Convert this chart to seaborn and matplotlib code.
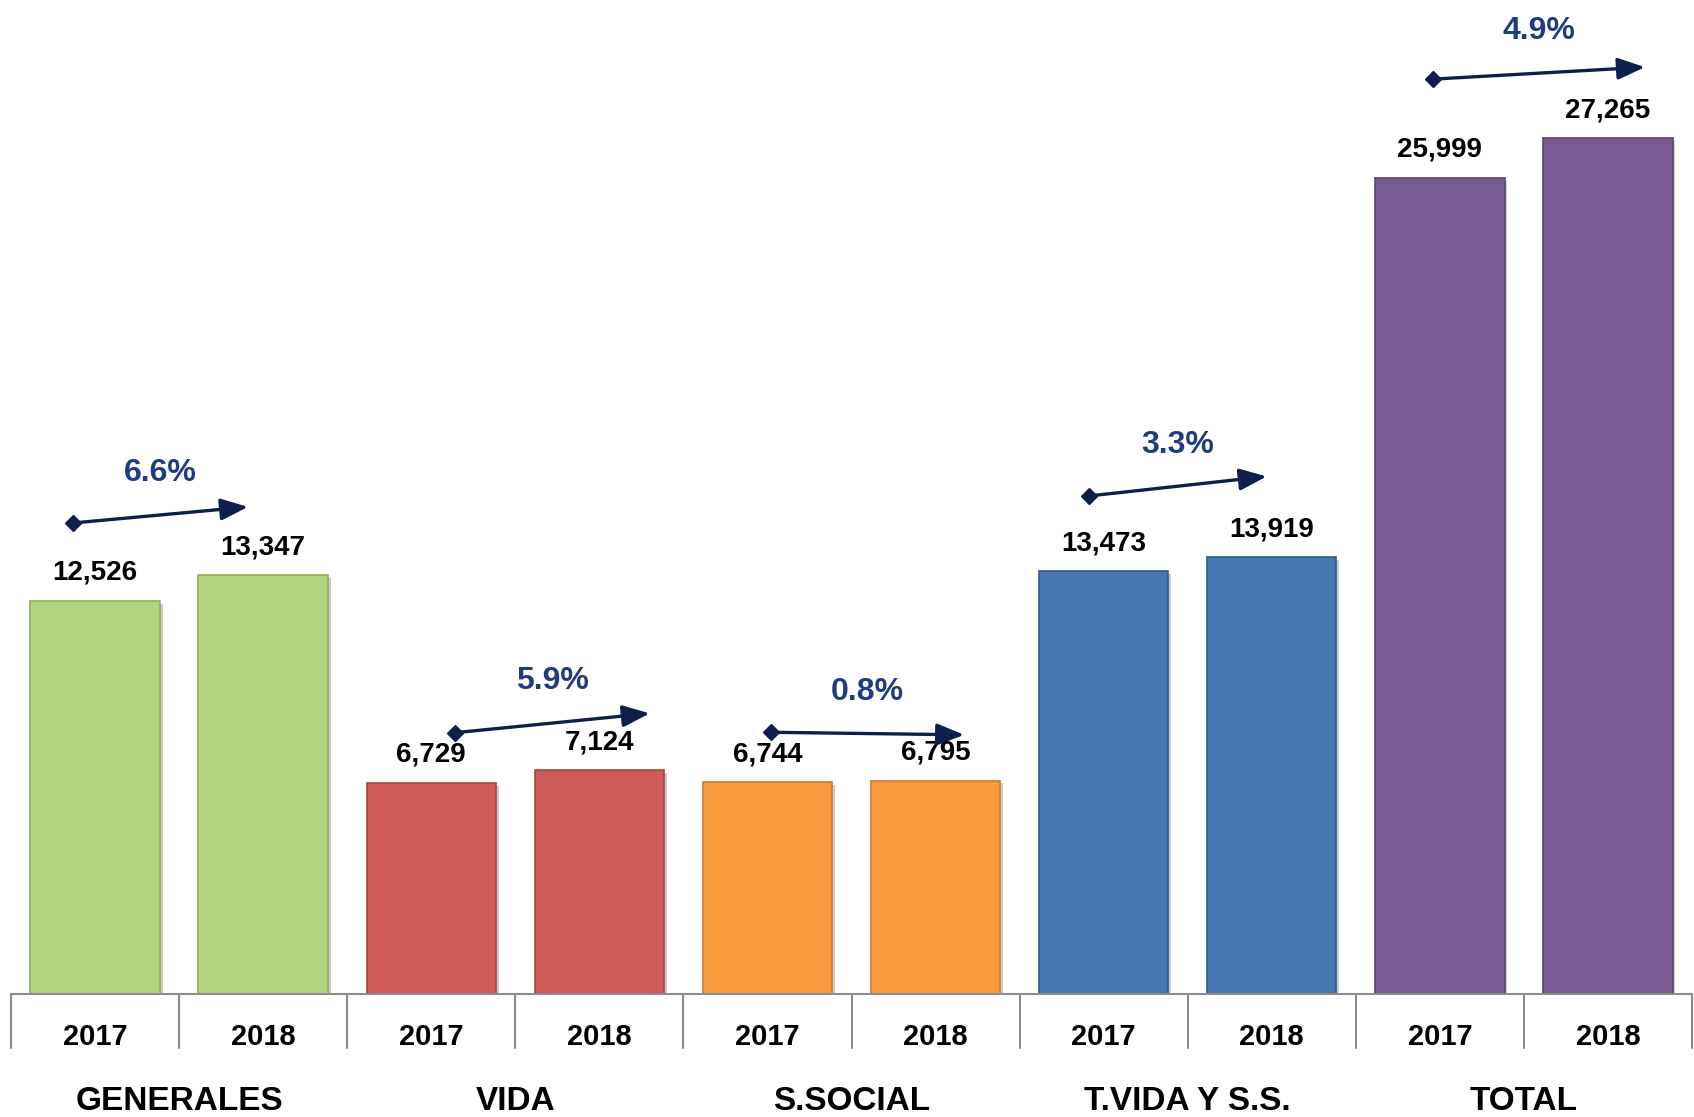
import numpy as np
import pandas as pd
import matplotlib
matplotlib.use('Agg')
import matplotlib.pyplot as plt
import matplotlib.transforms as mtransforms
import matplotlib.patheffects as pe
import seaborn as sns

# Data
groups = ['GENERALES', 'VIDA', 'S.SOCIAL', 'T.VIDA Y S.S.', 'TOTAL']
years = ['2017', '2018']
values_2017 = [12526, 6729, 6744, 13473, 25999]
values_2018 = [13347, 7124, 6795, 13919, 27265]
growth = ['6.6%', '5.9%', '0.8%', '3.3%', '4.9%']

# Style
colors = ['#B3D47E', '#CF5A5A', '#F99A3E', '#4677B3', '#785B94']
edge_colors = ['#8FAF5C', '#A84444', '#CF7A2A', '#2F5A8E', '#5A4272']
navy = '#0F1F4B'
pct_color = '#203C80'
grid_gray = '#8C8C8C'
# arrow placement tweaks (points above bar tops, slot-width offsets from bar centres)
arrow_lift_start = [56, 36, 36, 54, 71]
arrow_lift_end = [49, 41, 33, 58, 51]
arrow_dx_start = [-0.13, 0.14, 0.02, -0.09, -0.04]
arrow_dx_end = [-0.09, 0.30, 0.17, -0.03, 0.22]

rows = []
for i, g in enumerate(groups):
    rows.append({'slot': f'{g}-2017', 'group': g, 'year': '2017', 'value': values_2017[i]})
    rows.append({'slot': f'{g}-2018', 'group': g, 'year': '2018', 'value': values_2018[i]})
df = pd.DataFrame(rows)

sns.set_theme(style='white')
plt.rcParams['font.family'] = ['Liberation Sans', 'DejaVu Sans']
plt.rcParams['font.weight'] = 'bold'

W, H = 1694, 1117
fig = plt.figure(figsize=(W / 100, H / 100), dpi=100)
ax = fig.add_axes([11 / W, (H - 994) / H, (1692 - 11) / W, 994 / H])

sns.barplot(data=df, x='slot', y='value', hue='group', palette=colors, dodge=False,
            width=0.77, legend=False, ax=ax, saturation=1)

for k, patch in enumerate(ax.patches[:len(df)]):
    patch.set_edgecolor(edge_colors[groups.index(df['group'].iloc[k])])
    patch.set_linewidth(1.2)
    patch.set_path_effects([pe.SimplePatchShadow(offset=(2, -2), shadow_rgbFace='#999999', alpha=0.5),
                            pe.Normal()])

ymax = 27265 * 994 / 856
ax.set_xlim(-0.5, 9.5)
ax.set_ylim(0, ymax)
ax.set_xticks([])
ax.set_yticks([])
ax.set_xlabel('')
ax.set_ylabel('')
for s in ax.spines.values():
    s.set_visible(False)

# value labels
for k, row in df.iterrows():
    ax.annotate(f"{row['value']:,}", (k, row['value']), xytext=(0, 20), textcoords='offset points',
                ha='center', va='center', fontsize=20, fontweight='bold', color='black')

# growth arrows
for i, g in enumerate(groups):
    x1 = 2 * i + arrow_dx_start[i]
    x2 = 2 * i + 1 + arrow_dx_end[i]
    v1 = values_2017[i]
    v2 = values_2018[i]
    t1 = ax.transData + mtransforms.ScaledTranslation(0, arrow_lift_start[i] / 72, fig.dpi_scale_trans)
    t2 = ax.transData + mtransforms.ScaledTranslation(0, arrow_lift_end[i] / 72, fig.dpi_scale_trans)
    ax.annotate('', xy=(x2, v2), xycoords=t2, xytext=(x1, v1), textcoords=t1,
                arrowprops=dict(arrowstyle='-|>,head_length=0.75,head_width=0.3', color=navy,
                                lw=2.4, shrinkA=0, shrinkB=0, mutation_scale=22),
                annotation_clip=False)
    ax.plot([x1], [v1], marker='D', markersize=8, color=navy, transform=t1, clip_on=False)
    lift_mid = (arrow_lift_start[i] + arrow_lift_end[i]) / 2 + 30
    tm = ax.transData + mtransforms.ScaledTranslation(0, lift_mid / 72, fig.dpi_scale_trans)
    ax.text((x1 + x2) / 2, (v1 + v2) / 2, growth[i], transform=tm, ha='center', va='center',
            fontsize=23, fontweight='bold', color=pct_color, clip_on=False)

# table below the axis
xt = ax.get_xaxis_transform()
ax.plot([-0.5, 9.5], [0, 0], color=grid_gray, lw=1.5, transform=xt, clip_on=False)
for b in np.arange(-0.5, 10, 1):
    ax.plot([b, b], [0, -54 / 994], color=grid_gray, lw=1.5, transform=xt, clip_on=False)
for k, row in df.iterrows():
    ax.text(k, -43 / 994, row['year'], transform=xt, ha='center', va='center',
            fontsize=21, fontweight='bold', color='black')
for i, g in enumerate(groups):
    ax.text(2 * i + 0.5, -108 / 994, g, transform=xt, ha='center', va='center',
            fontsize=24, fontweight='bold', color='black')

fig.savefig('out.png', dpi=100, facecolor='white')
